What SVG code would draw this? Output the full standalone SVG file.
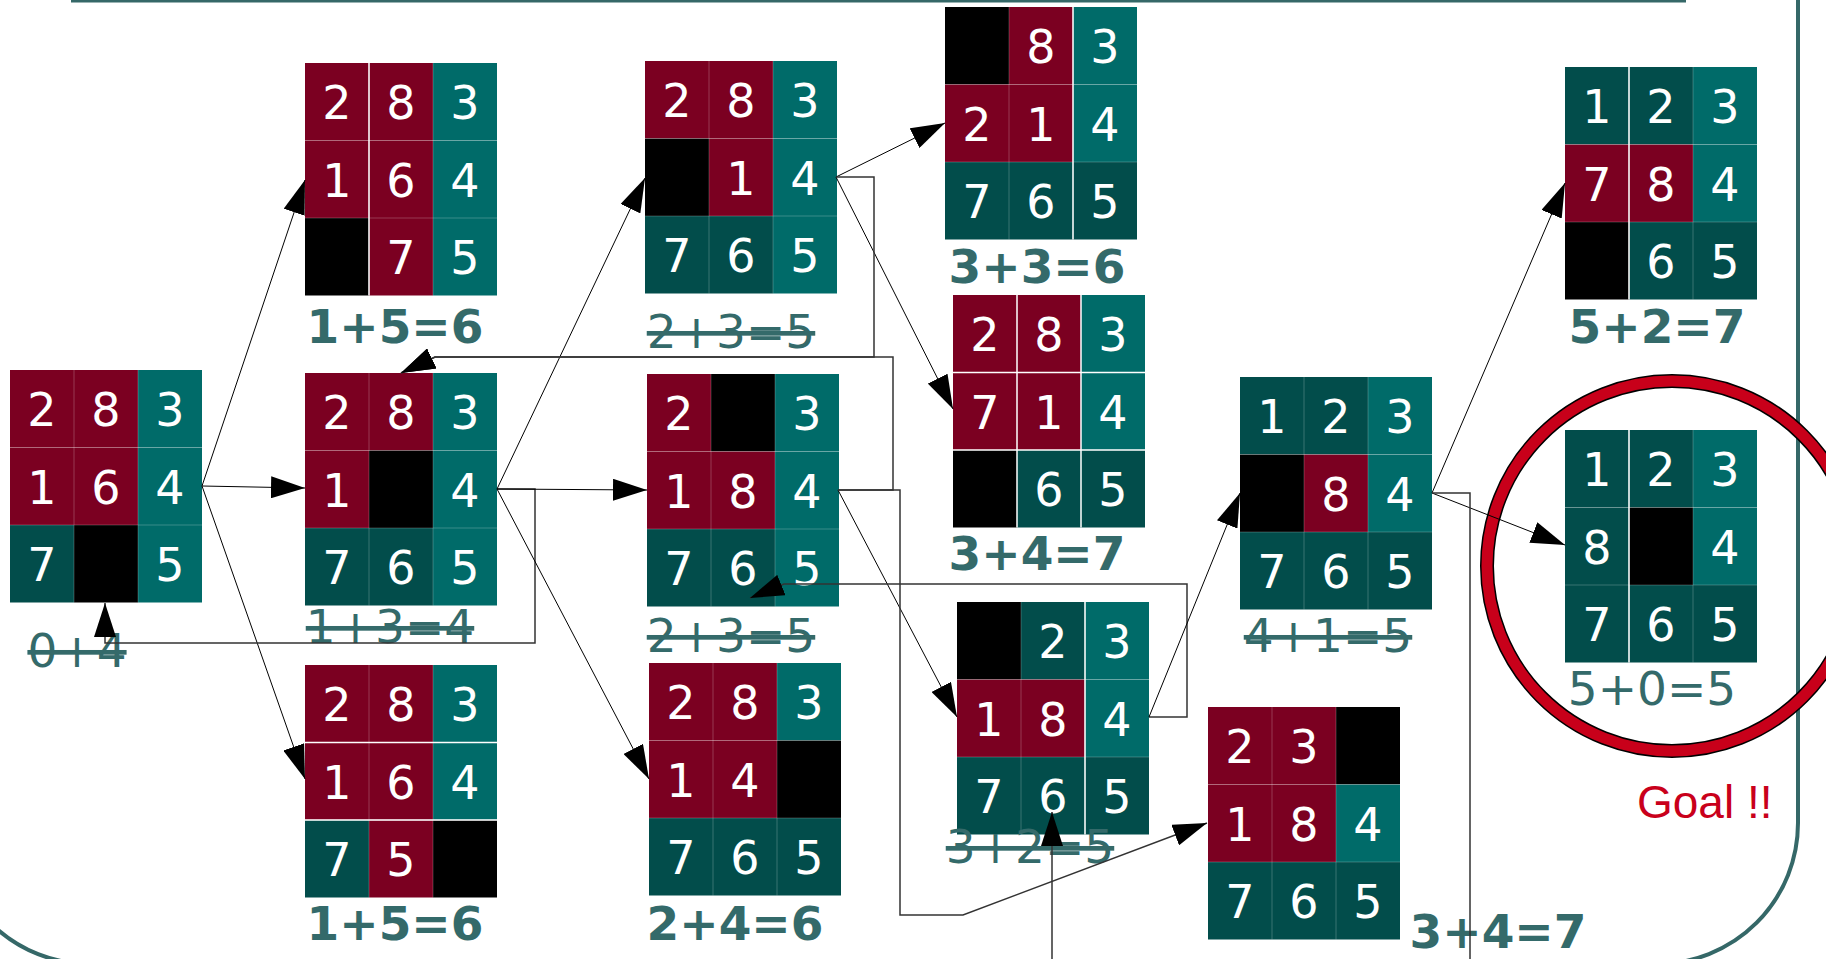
<svg xmlns="http://www.w3.org/2000/svg" width="1826" height="959" viewBox="0 0 1826 959">
<defs>
<style>
.R{fill:#7b0021}.T{fill:#006b69}.D{fill:#024d4b}.K{fill:#000}
.t{font-family:"DejaVu Sans",sans-serif;font-size:46px;fill:#fff;text-anchor:middle}
.lb{font-family:"DejaVu Sans",sans-serif;font-size:47px;font-weight:bold;fill:#346a6a;text-anchor:middle}
.ls{font-family:"DejaVu Sans",sans-serif;font-size:47px;fill:#346a6a;text-anchor:middle;text-decoration:line-through}
.lr{font-family:"DejaVu Sans",sans-serif;font-size:47px;fill:#346a6a;text-anchor:middle}
.g{stroke:#fff;stroke-opacity:.22;stroke-width:1;fill:none}
.w{stroke:#fff;stroke-width:1.5;fill:none}
.c{stroke:#000;stroke-width:1;fill:none;marker-end:url(#ah)}
.o{stroke:#333;stroke-width:1.5;fill:none;marker-end:url(#ah)}
</style>
<marker id="ah" markerUnits="userSpaceOnUse" markerWidth="34" markerHeight="22" refX="34" refY="11" orient="auto">
<path d="M0,0 L34,11 L0,22 z" fill="#000"/>
</marker>
<path id="grid" class="g" d="M64,0V232.5M128,0V232.5M0,77.5H192M0,155H192"/>
</defs>
<rect width="1826" height="959" fill="#fff"/>
<g id="frame" fill="none" stroke="#356868">
<line x1="71" y1="1" x2="1686" y2="1" stroke-width="3"/>
<path d="M1798,0 L1798,823 A141,141 0 0 1 1657,964 L90,964 A141,141 0 0 1 -51,823" stroke-width="4"/>
</g>
<g id="goal-ring" fill="none">
<circle cx="1672" cy="566" r="185" stroke="#000" stroke-width="14"/>
<circle cx="1672" cy="566" r="185" stroke="#c8001a" stroke-width="11"/>
</g>
<g id="n0" transform="translate(10,370)">
<rect class="R" x="0" y="0" width="64" height="77.5"/><rect class="R" x="64" y="0" width="64" height="77.5"/><rect class="T" x="128" y="0" width="64" height="77.5"/>
<rect class="R" x="0" y="77.5" width="64" height="77.5"/><rect class="R" x="64" y="77.5" width="64" height="77.5"/><rect class="T" x="128" y="77.5" width="64" height="77.5"/>
<rect class="D" x="0" y="155" width="64" height="77.5"/><rect class="K" x="64" y="155" width="64" height="77.5"/><rect class="T" x="128" y="155" width="64" height="77.5"/>
<use href="#grid"/>
<text class="t" x="32" y="56">2</text><text class="t" x="96" y="56">8</text><text class="t" x="160" y="56">3</text>
<text class="t" x="32" y="133.5">1</text><text class="t" x="96" y="133.5">6</text><text class="t" x="160" y="133.5">4</text>
<text class="t" x="32" y="211">7</text><text class="t" x="160" y="211">5</text>
</g>
<text class="ls" x="77" y="667">0+4</text>
<g id="n1" transform="translate(305,63)">
<rect class="R" x="0" y="0" width="64" height="77.5"/><rect class="R" x="64" y="0" width="64" height="77.5"/><rect class="T" x="128" y="0" width="64" height="77.5"/>
<rect class="R" x="0" y="77.5" width="64" height="77.5"/><rect class="R" x="64" y="77.5" width="64" height="77.5"/><rect class="T" x="128" y="77.5" width="64" height="77.5"/>
<rect class="K" x="0" y="155" width="64" height="77.5"/><rect class="R" x="64" y="155" width="64" height="77.5"/><rect class="T" x="128" y="155" width="64" height="77.5"/>
<use href="#grid"/><path class="w" d="M64,0V232.5"/>
<text class="t" x="32" y="56">2</text><text class="t" x="96" y="56">8</text><text class="t" x="160" y="56">3</text>
<text class="t" x="32" y="133.5">1</text><text class="t" x="96" y="133.5">6</text><text class="t" x="160" y="133.5">4</text>
<text class="t" x="96" y="211">7</text><text class="t" x="160" y="211">5</text>
</g>
<text class="lb" x="395" y="343">1+5=6</text>
<g id="n2" transform="translate(305,373)">
<rect class="R" x="0" y="0" width="64" height="77.5"/><rect class="R" x="64" y="0" width="64" height="77.5"/><rect class="T" x="128" y="0" width="64" height="77.5"/>
<rect class="R" x="0" y="77.5" width="64" height="77.5"/><rect class="K" x="64" y="77.5" width="64" height="77.5"/><rect class="T" x="128" y="77.5" width="64" height="77.5"/>
<rect class="D" x="0" y="155" width="64" height="77.5"/><rect class="D" x="64" y="155" width="64" height="77.5"/><rect class="T" x="128" y="155" width="64" height="77.5"/>
<use href="#grid"/>
<text class="t" x="32" y="56">2</text><text class="t" x="96" y="56">8</text><text class="t" x="160" y="56">3</text>
<text class="t" x="32" y="133.5">1</text><text class="t" x="160" y="133.5">4</text>
<text class="t" x="32" y="211">7</text><text class="t" x="96" y="211">6</text><text class="t" x="160" y="211">5</text>
</g>
<text class="ls" x="390" y="643">1+3=4</text>
<g id="n3" transform="translate(305,665)">
<rect class="R" x="0" y="0" width="64" height="77.5"/><rect class="R" x="64" y="0" width="64" height="77.5"/><rect class="T" x="128" y="0" width="64" height="77.5"/>
<rect class="R" x="0" y="77.5" width="64" height="77.5"/><rect class="R" x="64" y="77.5" width="64" height="77.5"/><rect class="T" x="128" y="77.5" width="64" height="77.5"/>
<rect class="D" x="0" y="155" width="64" height="77.5"/><rect class="R" x="64" y="155" width="64" height="77.5"/><rect class="K" x="128" y="155" width="64" height="77.5"/>
<use href="#grid"/><path class="w" d="M0,77.5H192M0,155H192"/>
<text class="t" x="32" y="56">2</text><text class="t" x="96" y="56">8</text><text class="t" x="160" y="56">3</text>
<text class="t" x="32" y="133.5">1</text><text class="t" x="96" y="133.5">6</text><text class="t" x="160" y="133.5">4</text>
<text class="t" x="32" y="211">7</text><text class="t" x="96" y="211">5</text>
</g>
<text class="lb" x="395" y="940">1+5=6</text>
<g id="n4" transform="translate(645,61)">
<rect class="R" x="0" y="0" width="64" height="77.5"/><rect class="R" x="64" y="0" width="64" height="77.5"/><rect class="T" x="128" y="0" width="64" height="77.5"/>
<rect class="K" x="0" y="77.5" width="64" height="77.5"/><rect class="R" x="64" y="77.5" width="64" height="77.5"/><rect class="T" x="128" y="77.5" width="64" height="77.5"/>
<rect class="D" x="0" y="155" width="64" height="77.5"/><rect class="D" x="64" y="155" width="64" height="77.5"/><rect class="T" x="128" y="155" width="64" height="77.5"/>
<use href="#grid"/>
<text class="t" x="32" y="56">2</text><text class="t" x="96" y="56">8</text><text class="t" x="160" y="56">3</text>
<text class="t" x="96" y="133.5">1</text><text class="t" x="160" y="133.5">4</text>
<text class="t" x="32" y="211">7</text><text class="t" x="96" y="211">6</text><text class="t" x="160" y="211">5</text>
</g>
<text class="ls" x="731" y="348">2+3=5</text>
<g id="n5" transform="translate(647,374)">
<rect class="R" x="0" y="0" width="64" height="77.5"/><rect class="K" x="64" y="0" width="64" height="77.5"/><rect class="T" x="128" y="0" width="64" height="77.5"/>
<rect class="R" x="0" y="77.5" width="64" height="77.5"/><rect class="R" x="64" y="77.5" width="64" height="77.5"/><rect class="T" x="128" y="77.5" width="64" height="77.5"/>
<rect class="D" x="0" y="155" width="64" height="77.5"/><rect class="D" x="64" y="155" width="64" height="77.5"/><rect class="T" x="128" y="155" width="64" height="77.5"/>
<use href="#grid"/>
<text class="t" x="32" y="56">2</text><text class="t" x="160" y="56">3</text>
<text class="t" x="32" y="133.5">1</text><text class="t" x="96" y="133.5">8</text><text class="t" x="160" y="133.5">4</text>
<text class="t" x="32" y="211">7</text><text class="t" x="96" y="211">6</text><text class="t" x="160" y="211">5</text>
</g>
<text class="ls" x="731" y="652">2+3=5</text>
<g id="n6" transform="translate(649,663)">
<rect class="R" x="0" y="0" width="64" height="77.5"/><rect class="R" x="64" y="0" width="64" height="77.5"/><rect class="T" x="128" y="0" width="64" height="77.5"/>
<rect class="R" x="0" y="77.5" width="64" height="77.5"/><rect class="R" x="64" y="77.5" width="64" height="77.5"/><rect class="K" x="128" y="77.5" width="64" height="77.5"/>
<rect class="D" x="0" y="155" width="64" height="77.5"/><rect class="D" x="64" y="155" width="64" height="77.5"/><rect class="D" x="128" y="155" width="64" height="77.5"/>
<use href="#grid"/>
<text class="t" x="32" y="56">2</text><text class="t" x="96" y="56">8</text><text class="t" x="160" y="56">3</text>
<text class="t" x="32" y="133.5">1</text><text class="t" x="96" y="133.5">4</text>
<text class="t" x="32" y="211">7</text><text class="t" x="96" y="211">6</text><text class="t" x="160" y="211">5</text>
</g>
<text class="lb" x="735" y="940">2+4=6</text>
<g id="n7" transform="translate(945,7)">
<rect class="K" x="0" y="0" width="64" height="77.5"/><rect class="R" x="64" y="0" width="64" height="77.5"/><rect class="T" x="128" y="0" width="64" height="77.5"/>
<rect class="R" x="0" y="77.5" width="64" height="77.5"/><rect class="R" x="64" y="77.5" width="64" height="77.5"/><rect class="T" x="128" y="77.5" width="64" height="77.5"/>
<rect class="D" x="0" y="155" width="64" height="77.5"/><rect class="D" x="64" y="155" width="64" height="77.5"/><rect class="D" x="128" y="155" width="64" height="77.5"/>
<use href="#grid"/><path class="w" d="M128,0V232.5"/>
<text class="t" x="96" y="56">8</text><text class="t" x="160" y="56">3</text>
<text class="t" x="32" y="133.5">2</text><text class="t" x="96" y="133.5">1</text><text class="t" x="160" y="133.5">4</text>
<text class="t" x="32" y="211">7</text><text class="t" x="96" y="211">6</text><text class="t" x="160" y="211">5</text>
</g>
<text class="lb" x="1037" y="283">3+3=6</text>
<g id="n8" transform="translate(953,295)">
<rect class="R" x="0" y="0" width="64" height="77.5"/><rect class="R" x="64" y="0" width="64" height="77.5"/><rect class="T" x="128" y="0" width="64" height="77.5"/>
<rect class="R" x="0" y="77.5" width="64" height="77.5"/><rect class="R" x="64" y="77.5" width="64" height="77.5"/><rect class="T" x="128" y="77.5" width="64" height="77.5"/>
<rect class="K" x="0" y="155" width="64" height="77.5"/><rect class="D" x="64" y="155" width="64" height="77.5"/><rect class="D" x="128" y="155" width="64" height="77.5"/>
<path class="w" d="M64,0V232.5M128,0V232.5M0,77.5H192M0,155H192"/>
<text class="t" x="32" y="56">2</text><text class="t" x="96" y="56">8</text><text class="t" x="160" y="56">3</text>
<text class="t" x="32" y="133.5">7</text><text class="t" x="96" y="133.5">1</text><text class="t" x="160" y="133.5">4</text>
<text class="t" x="96" y="211">6</text><text class="t" x="160" y="211">5</text>
</g>
<text class="lb" x="1037" y="570">3+4=7</text>
<g id="n9" transform="translate(957,602)">
<rect class="K" x="0" y="0" width="64" height="77.5"/><rect class="D" x="64" y="0" width="64" height="77.5"/><rect class="T" x="128" y="0" width="64" height="77.5"/>
<rect class="R" x="0" y="77.5" width="64" height="77.5"/><rect class="R" x="64" y="77.5" width="64" height="77.5"/><rect class="T" x="128" y="77.5" width="64" height="77.5"/>
<rect class="D" x="0" y="155" width="64" height="77.5"/><rect class="D" x="64" y="155" width="64" height="77.5"/><rect class="D" x="128" y="155" width="64" height="77.5"/>
<use href="#grid"/><path class="w" d="M128,0V232.5"/>
<text class="t" x="96" y="56">2</text><text class="t" x="160" y="56">3</text>
<text class="t" x="32" y="133.5">1</text><text class="t" x="96" y="133.5">8</text><text class="t" x="160" y="133.5">4</text>
<text class="t" x="32" y="211">7</text><text class="t" x="96" y="211">6</text><text class="t" x="160" y="211">5</text>
</g>
<text class="ls" x="1030" y="863">3+2=5</text>
<g id="n10" transform="translate(1240,377)">
<rect class="D" x="0" y="0" width="64" height="77.5"/><rect class="D" x="64" y="0" width="64" height="77.5"/><rect class="T" x="128" y="0" width="64" height="77.5"/>
<rect class="K" x="0" y="77.5" width="64" height="77.5"/><rect class="R" x="64" y="77.5" width="64" height="77.5"/><rect class="T" x="128" y="77.5" width="64" height="77.5"/>
<rect class="D" x="0" y="155" width="64" height="77.5"/><rect class="D" x="64" y="155" width="64" height="77.5"/><rect class="D" x="128" y="155" width="64" height="77.5"/>
<use href="#grid"/>
<text class="t" x="32" y="56">1</text><text class="t" x="96" y="56">2</text><text class="t" x="160" y="56">3</text>
<text class="t" x="96" y="133.5">8</text><text class="t" x="160" y="133.5">4</text>
<text class="t" x="32" y="211">7</text><text class="t" x="96" y="211">6</text><text class="t" x="160" y="211">5</text>
</g>
<text class="ls" x="1328" y="652">4+1=5</text>
<g id="n11" transform="translate(1208,707)">
<rect class="R" x="0" y="0" width="64" height="77.5"/><rect class="R" x="64" y="0" width="64" height="77.5"/><rect class="K" x="128" y="0" width="64" height="77.5"/>
<rect class="R" x="0" y="77.5" width="64" height="77.5"/><rect class="R" x="64" y="77.5" width="64" height="77.5"/><rect class="T" x="128" y="77.5" width="64" height="77.5"/>
<rect class="D" x="0" y="155" width="64" height="77.5"/><rect class="D" x="64" y="155" width="64" height="77.5"/><rect class="D" x="128" y="155" width="64" height="77.5"/>
<use href="#grid"/>
<text class="t" x="32" y="56">2</text><text class="t" x="96" y="56">3</text>
<text class="t" x="32" y="133.5">1</text><text class="t" x="96" y="133.5">8</text><text class="t" x="160" y="133.5">4</text>
<text class="t" x="32" y="211">7</text><text class="t" x="96" y="211">6</text><text class="t" x="160" y="211">5</text>
</g>
<text class="lb" x="1498" y="948">3+4=7</text>
<g id="n12" transform="translate(1565,67)">
<rect class="D" x="0" y="0" width="64" height="77.5"/><rect class="D" x="64" y="0" width="64" height="77.5"/><rect class="T" x="128" y="0" width="64" height="77.5"/>
<rect class="R" x="0" y="77.5" width="64" height="77.5"/><rect class="R" x="64" y="77.5" width="64" height="77.5"/><rect class="T" x="128" y="77.5" width="64" height="77.5"/>
<rect class="K" x="0" y="155" width="64" height="77.5"/><rect class="D" x="64" y="155" width="64" height="77.5"/><rect class="D" x="128" y="155" width="64" height="77.5"/>
<use href="#grid"/><path class="w" d="M64,0V232.5"/>
<text class="t" x="32" y="56">1</text><text class="t" x="96" y="56">2</text><text class="t" x="160" y="56">3</text>
<text class="t" x="32" y="133.5">7</text><text class="t" x="96" y="133.5">8</text><text class="t" x="160" y="133.5">4</text>
<text class="t" x="96" y="211">6</text><text class="t" x="160" y="211">5</text>
</g>
<text class="lb" x="1657" y="343">5+2=7</text>
<g id="n13" transform="translate(1565,430)">
<rect class="D" x="0" y="0" width="64" height="77.5"/><rect class="D" x="64" y="0" width="64" height="77.5"/><rect class="T" x="128" y="0" width="64" height="77.5"/>
<rect class="D" x="0" y="77.5" width="64" height="77.5"/><rect class="K" x="64" y="77.5" width="64" height="77.5"/><rect class="T" x="128" y="77.5" width="64" height="77.5"/>
<rect class="D" x="0" y="155" width="64" height="77.5"/><rect class="D" x="64" y="155" width="64" height="77.5"/><rect class="D" x="128" y="155" width="64" height="77.5"/>
<use href="#grid"/><path class="w" d="M64,0V232.5"/>
<text class="t" x="32" y="56">1</text><text class="t" x="96" y="56">2</text><text class="t" x="160" y="56">3</text>
<text class="t" x="32" y="133.5">8</text><text class="t" x="160" y="133.5">4</text>
<text class="t" x="32" y="211">7</text><text class="t" x="96" y="211">6</text><text class="t" x="160" y="211">5</text>
</g>
<text class="lr" x="1652" y="705">5+0=5</text>
<text id="goal" x="1637" y="818" font-family="'Liberation Sans',Arial,sans-serif" font-size="46" fill="#c9001b">Goal !!</text>
<g id="connectors">
<path class="c" d="M202,486 L305,180"/>
<path class="c" d="M202,486 L305,488"/>
<path class="c" d="M202,486 L305,779"/>
<path class="o" d="M497,489 L535,489 L535,643 L105,643 L105,603"/>
<path class="c" d="M497,489 L645,178"/>
<path class="c" d="M497,489 L647,490"/>
<path class="c" d="M497,489 L649,779"/>
<path class="c" d="M836,177 L945,123"/>
<path class="c" d="M836,177 L953,409"/>
<path class="o" d="M836,177 L874,177 L874,357 L435,357 L401,373"/>
<path class="c" d="M838,490 L957,717"/>
<path class="o" d="M838,490 L893,490 L893,357 L435,357 L401,373"/>
<path class="o" d="M838,490 L900,490 L900,915 L963,915 L1207,823"/>
<path class="o" d="M1149,717 L1187,717 L1187,584 L784,584 L750,598"/>
<path class="c" d="M1149,717 L1240,493"/>
<path class="c" d="M1432,493 L1565,183"/>
<path class="c" d="M1432,493 L1565,545"/>
<path class="o" d="M1432,493 L1470,493 L1470,990 L1052,990 L1052,812"/>
</g>
</svg>
